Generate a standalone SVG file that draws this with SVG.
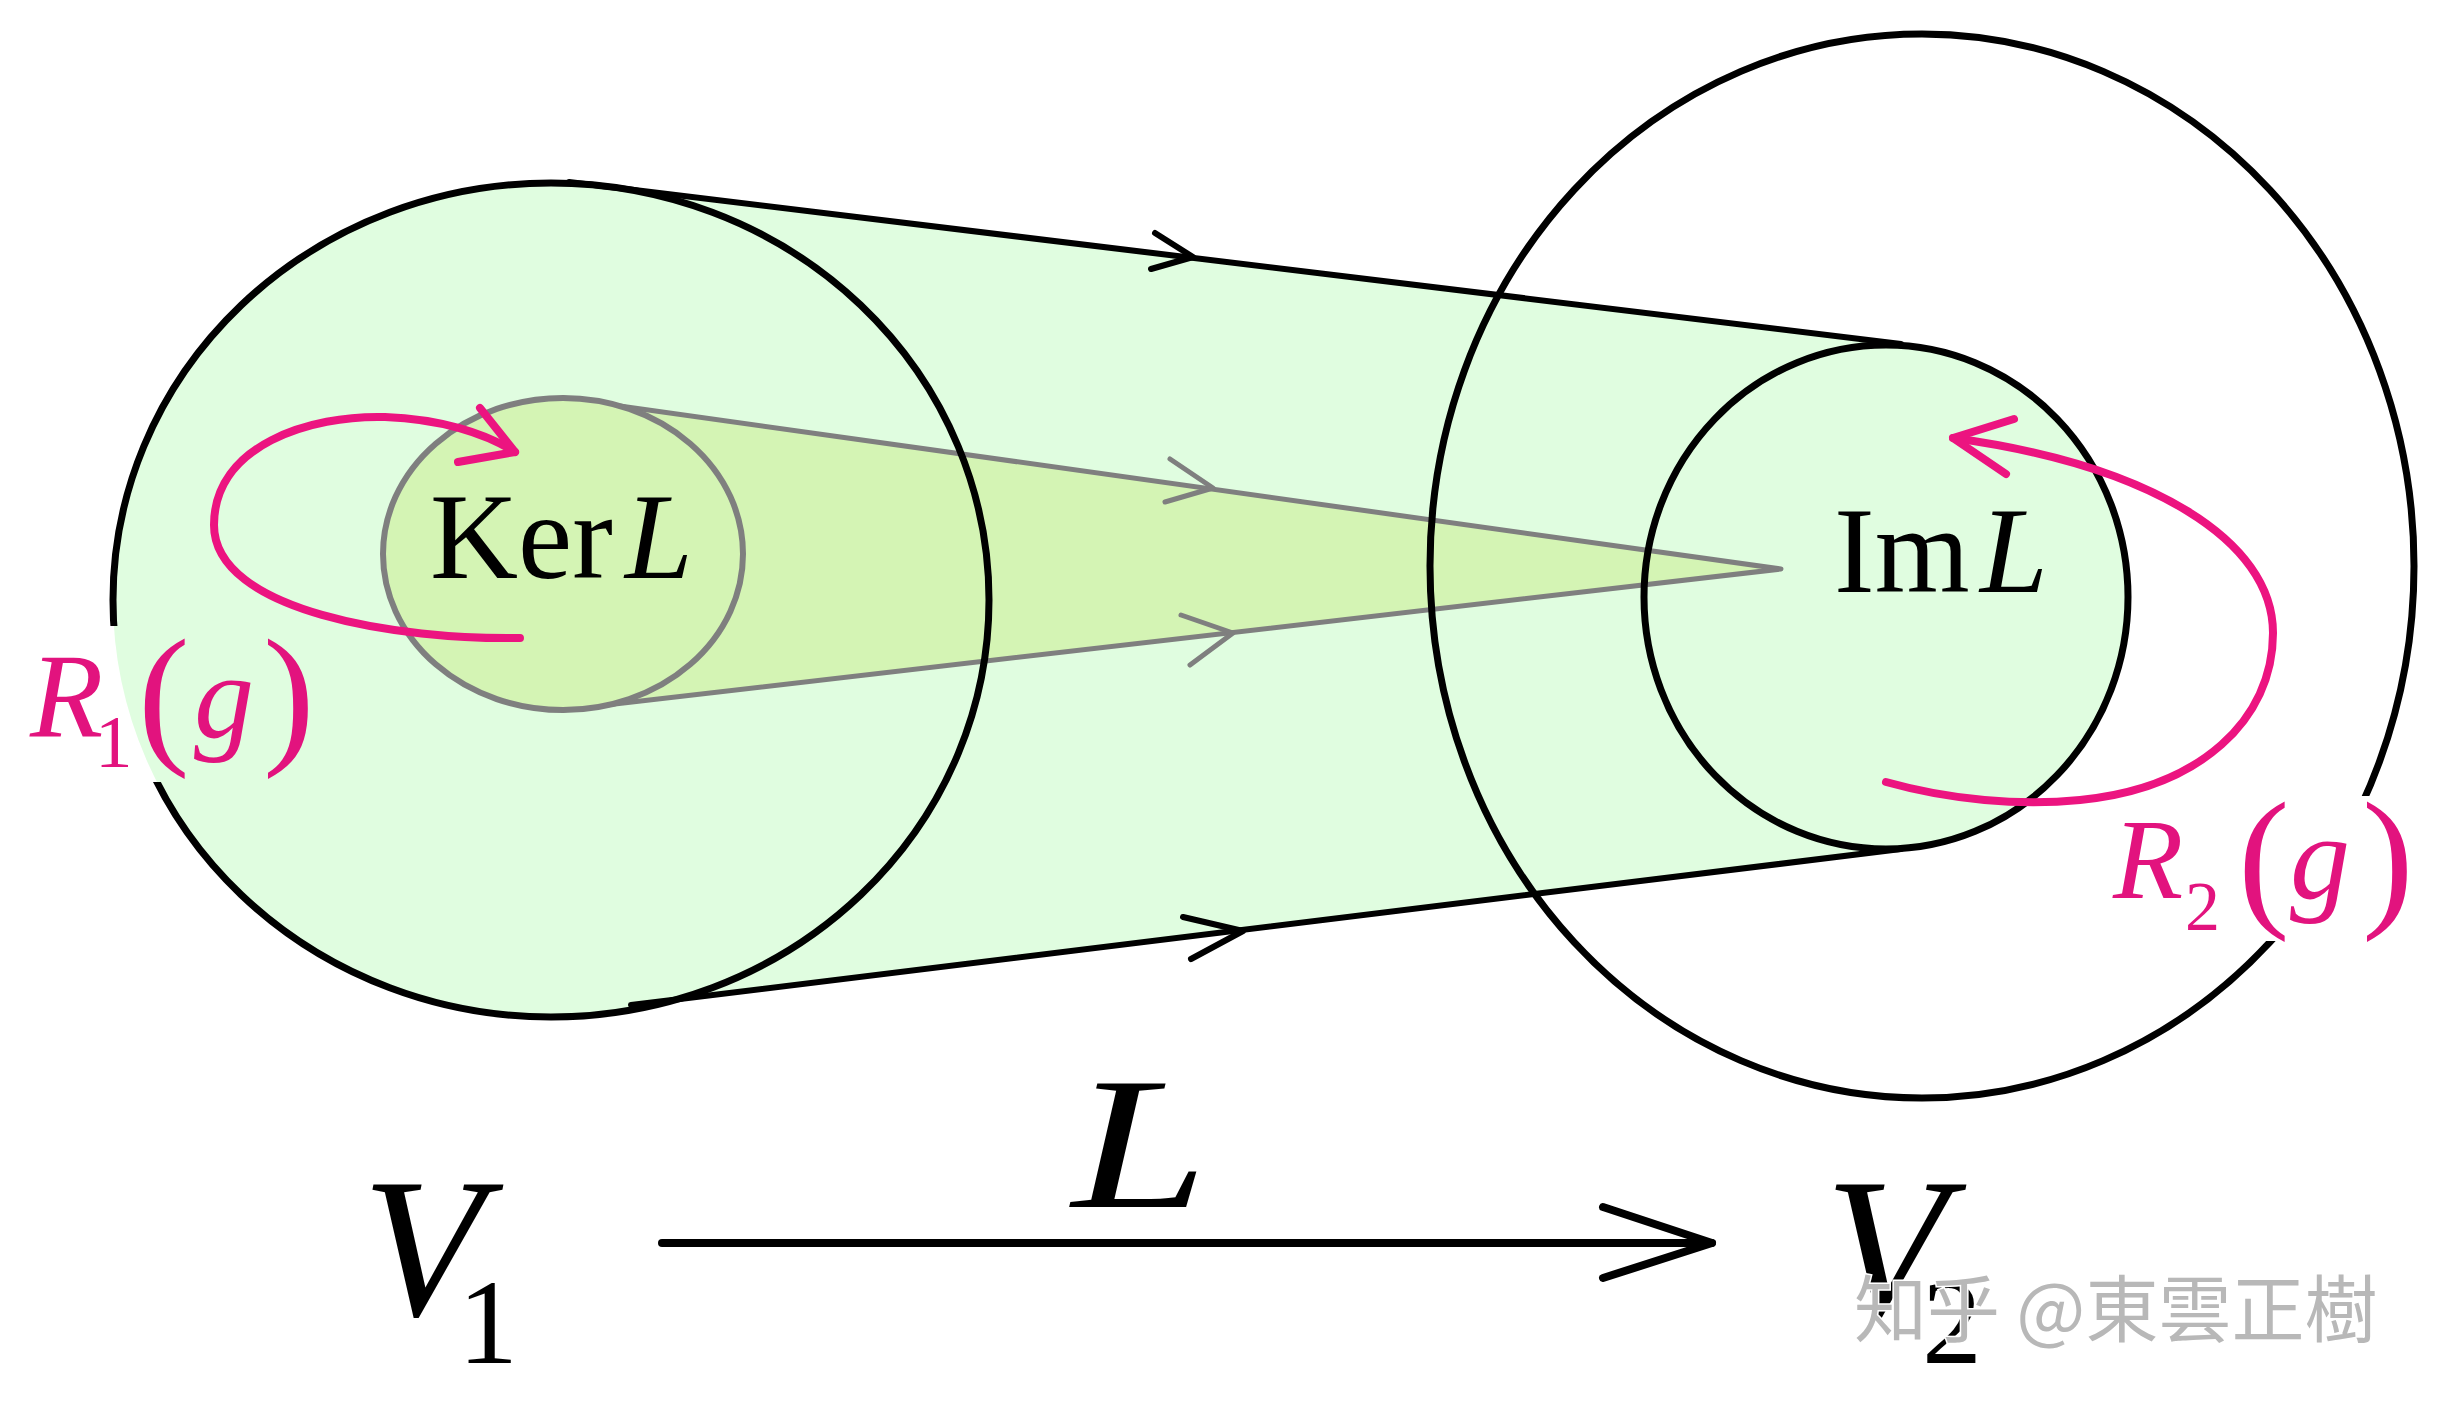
<svg xmlns="http://www.w3.org/2000/svg" width="2443" height="1410" viewBox="0 0 2443 1410">
<style>
.blk{fill:none;stroke:#000;stroke-width:7}
.ln{fill:none;stroke:#000;stroke-width:6;stroke-linecap:round;stroke-linejoin:round}
.gr{fill:none;stroke:#7f7f7f;stroke-width:5;stroke-linecap:round;stroke-linejoin:round}
.pk{fill:none;stroke:#ec1480;stroke-width:8;stroke-linecap:round;stroke-linejoin:round}
text{font-family:"Liberation Serif","Times New Roman",Times,serif}
.it{font-style:italic}
.pt{fill:#e2137e}
</style>
<defs>
<mask id="m1" maskUnits="userSpaceOnUse" x="0" y="0" width="2443" height="1410">
<rect x="0" y="0" width="2443" height="1410" fill="#fff"/>
<rect x="0" y="626" width="300" height="156" fill="#000"/>
</mask>
<mask id="m2" maskUnits="userSpaceOnUse" x="0" y="0" width="2443" height="1410">
<rect x="0" y="0" width="2443" height="1410" fill="#fff"/>
<rect x="2235" y="796" width="208" height="145" fill="#000"/>
</mask>
</defs>
<rect width="2443" height="1410" fill="#fff"/>

<g id="V1-space">
<ellipse cx="551" cy="600" rx="438" ry="417" fill="#e0fde0"/>
</g>
<g id="image-band">
<polygon points="569,182 1901,344 1901,849 631,1005" fill="#e0fde0"/>
</g>
<g id="ImL">
<ellipse cx="1886" cy="597" rx="242" ry="252" fill="#e0fde0"/>
</g>
<g id="kernel-cone">
<polygon points="563,398 1781,569 563,710" fill="#d4f4b4"/>
</g>

<g id="connectors">
<polyline class="gr" points="563,398 1781,569 563,710"/>
<polyline class="gr" points="1170,459 1213,488 1165,502"/>
<polyline class="gr" points="1181,615 1233,633 1190,665"/>
<line class="ln" x1="569" y1="182" x2="1901" y2="344"/>
<line class="ln" x1="631" y1="1005" x2="1901" y2="849"/>
<polyline class="ln" points="1155,233 1193,257 1151,269"/>
<polyline class="ln" points="1183,917 1243,931 1191,959"/>
<line x1="662" y1="1243" x2="1712" y2="1243" stroke="#000" stroke-width="8" stroke-linecap="round"/>
<polyline points="1603,1207 1712,1243 1603,1278" fill="none" stroke="#000" stroke-width="8" stroke-linecap="round" stroke-linejoin="round"/>
</g>

<g id="KerL">
<ellipse cx="563" cy="554" rx="180" ry="156" fill="#d4f4b4" stroke="#7f7f7f" stroke-width="6"/>
<text font-size="122" x="430" y="578">Ker<tspan class="it" x="625">L</tspan></text>
</g>

<g id="V1-outline">
<ellipse class="blk" cx="551" cy="600" rx="438" ry="417" mask="url(#m1)"/>
</g>
<g id="ImL-outline">
<ellipse class="blk" cx="1886" cy="597" rx="242" ry="252"/>
<text font-size="122" x="1834" y="592">Im<tspan class="it" x="1980">L</tspan></text>
</g>
<g id="V2-space">
<ellipse class="blk" cx="1922" cy="566" rx="492" ry="532" mask="url(#m2)"/>
</g>

<g id="R1">
<path class="pk" d="M520,638 C400,640 214,612 214,525 C214,445 310,415 385,417 C440,419 485,433 515,452"/>
<polyline class="pk" points="480,408 515,452 458,462"/>
<text class="pt" y="737"><tspan class="it" x="30" font-size="120">R</tspan><tspan x="95" y="767" font-size="75">1</tspan><tspan x="138" y="746" font-size="155">(</tspan><tspan class="it" x="194" y="737" font-size="120">g</tspan><tspan x="263" y="746" font-size="155">)</tspan></text>
</g>
<g id="R2">
<path class="pk" d="M1886,782 C1950,800 2020,806 2080,800 C2200,788 2273,720 2273,633 C2273,540 2150,465 1953,438"/>
<polyline class="pk" points="2014,419 1953,438 2006,474"/>
<text class="pt" y="898"><tspan class="it" x="2113" font-size="115">R</tspan><tspan x="2185" y="930" font-size="70">2</tspan><tspan x="2238" y="909" font-size="155">(</tspan><tspan class="it" x="2290" y="898" font-size="120">g</tspan><tspan x="2362" y="909" font-size="155">)</tspan></text>
</g>

<g id="labels">
<text y="1315"><tspan class="it" x="362" font-size="200">V</tspan><tspan x="458" y="1363" font-size="120">1</tspan></text>
<text class="it" x="1072" y="1207" font-size="188" transform="translate(1072,0) scale(1.3,1) translate(-1072,0)">L</text>
<text y="1315"><tspan class="it" x="1825" font-size="200">V</tspan><tspan x="1922" y="1363" font-size="120">2</tspan></text>
</g>

<g id="watermark">
<text x="1854" y="1336" font-size="73" style="font-family:'Noto Sans CJK SC','Noto Sans CJK JP',sans-serif" fill="#b8b8b8" stroke="#fff" stroke-width="3" paint-order="stroke">知乎 @東雲正樹</text>
</g>
</svg>
